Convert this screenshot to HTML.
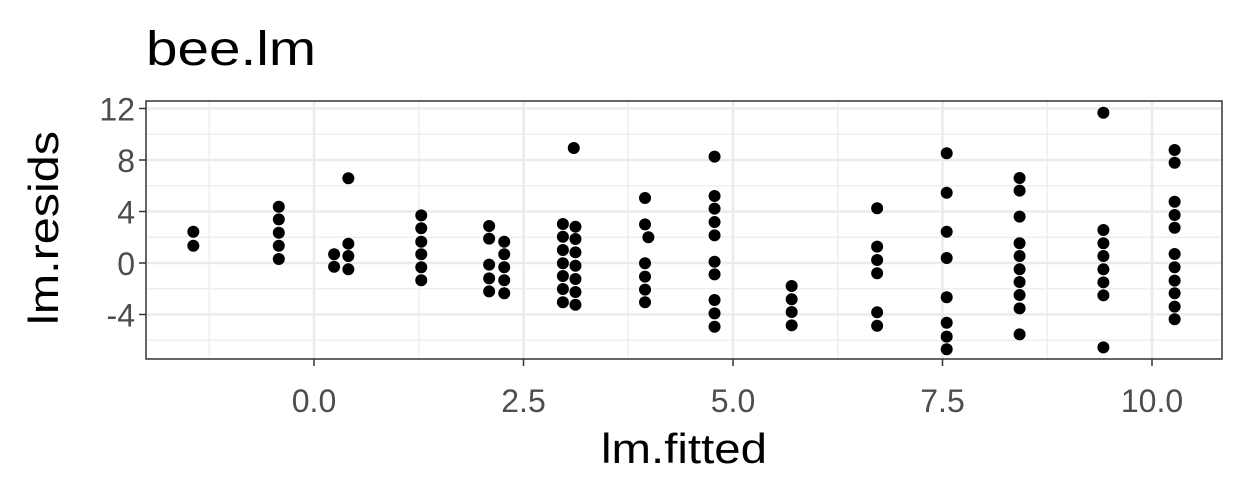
<!DOCTYPE html>
<html><head><meta charset="utf-8"><style>
html,body{margin:0;padding:0;background:#fff;}
svg{display:block;font-family:"Liberation Sans",Arial,sans-serif;}
</style></head><body>
<svg id="chart" width="1248" height="499" viewBox="0 0 1248 499">
<text x="146" y="65" font-size="48" textLength="170" lengthAdjust="spacingAndGlyphs" fill="#000">bee.lm</text>
<g id="grid"></g>
<g id="points"></g>
<rect x="146" y="101" width="1076" height="258" fill="none" stroke="#333" stroke-width="1.5"/>
<g id="axes"></g>
<text x="684" y="463" font-size="42" textLength="166" lengthAdjust="spacingAndGlyphs" text-anchor="middle" fill="#000">lm.fitted</text>
<text transform="translate(58,228) rotate(-90)" font-size="42" textLength="194" lengthAdjust="spacingAndGlyphs" text-anchor="middle" fill="#000">lm.resids</text>
</svg>
<script>
const xTicks=[0,2.5,5,7.5,10];
const xTickLabels=["0.0","2.5","5.0","7.5","10.0"];
const xMinor=[-1.25,1.25,3.75,6.25,8.75];
const yTicks=[-4,0,4,8,12];
const yTickLabels=["-4","0","4","8","12"];
const yMinor=[-6,-2,2,6,10];
const fitted=[-1.44,-1.44,
-0.42,-0.42,-0.42,-0.42,-0.42,
0.24,0.24,0.41,0.41,0.41,0.41,
1.28,1.28,1.28,1.28,1.28,1.28,
2.09,2.09,2.09,2.09,2.09,2.27,2.27,2.27,2.27,2.27,
2.97,2.97,2.97,2.97,2.97,2.97,2.97,3.12,3.12,3.12,3.12,3.12,3.12,3.12,3.10,
3.95,3.95,3.95,3.95,3.95,3.95,3.99,
4.78,4.78,4.78,4.78,4.78,4.78,4.78,4.78,4.78,4.78,
5.70,5.70,5.70,5.70,
6.72,6.72,6.72,6.72,6.72,6.72,
7.55,7.55,7.55,7.55,7.55,7.55,7.55,7.55,
8.42,8.42,8.42,8.42,8.42,8.42,8.42,8.42,8.42,8.42,
9.42,9.42,9.42,9.42,9.42,9.42,9.42,9.42,
10.27,10.27,10.27,10.27,10.27,10.27,10.27,10.27,10.27,10.27,10.27];
const resids=[2.43,1.34,
4.37,3.39,2.35,1.34,0.31,
0.68,-0.29,6.58,1.5,0.54,-0.49,
3.7,2.7,1.65,0.68,-0.33,-1.34,
2.87,1.89,-0.13,-1.19,-2.2,1.65,0.68,-0.33,-1.34,-2.35,
3.03,2.04,1.01,-0.02,-1.01,-2.02,-3.05,2.82,1.86,0.83,-0.21,-1.24,-2.25,-3.24,8.93,
5.05,3.0,-0.02,-1.06,-2.07,-3.05,2.0,
8.26,5.2,4.22,3.18,2.15,0.1,-0.88,-2.87,-3.91,-4.95,
-1.79,-2.82,-3.81,-4.84,
4.25,1.27,0.23,-0.8,-3.83,-4.87,
8.52,5.46,2.43,0.39,-2.66,-4.64,-5.72,-6.7,
6.6,5.62,3.6,1.53,0.54,-0.49,-1.48,-2.49,-3.52,-5.54,
11.67,2.56,1.53,0.54,-0.49,-1.5,-2.51,-6.55,
8.78,7.79,4.76,3.73,2.74,0.7,-0.33,-1.37,-2.35,-3.39,-4.37];
const NS="http://www.w3.org/2000/svg";
const X=v=>314+v*83.8;
const Y=v=>263-v*12.875;
const L=146,R=1222,T=101,B=359;
const grid=document.getElementById('grid');
const pts=document.getElementById('points');
const axes=document.getElementById('axes');
function line(p,x1,y1,x2,y2,c,w){const l=document.createElementNS(NS,'line');l.setAttribute('x1',x1);l.setAttribute('y1',y1);l.setAttribute('x2',x2);l.setAttribute('y2',y2);l.setAttribute('stroke',c);l.setAttribute('stroke-width',w);p.appendChild(l);return l;}
xMinor.forEach(v=>{const l=line(grid,X(v),T,X(v),B,'#ebebeb',1.2);

});
yMinor.forEach(v=>{const l=line(grid,L,Y(v),R,Y(v),'#ebebeb',1.2);

});
xTicks.forEach((v,i)=>{const l=line(grid,X(v),T,X(v),B,'#ebebeb',2.6);


const t=line(axes,X(v),B,X(v),B+7,'#333',1.5);


const tx=document.createElementNS(NS,'text');tx.setAttribute('x',X(v));tx.setAttribute('y',412);tx.setAttribute('font-size','32');tx.setAttribute('fill','#4d4d4d');tx.setAttribute('text-anchor','middle');tx.textContent=xTickLabels[i];


axes.appendChild(tx);});
yTicks.forEach((v,i)=>{const l=line(grid,L,Y(v),R,Y(v),'#ebebeb',2.6);


const t=line(axes,L-7,Y(v),L,Y(v),'#333',1.5);


const tx=document.createElementNS(NS,'text');tx.setAttribute('x',L-11);tx.setAttribute('y',Y(v)+12);tx.setAttribute('font-size','32');tx.setAttribute('fill','#4d4d4d');tx.setAttribute('text-anchor','end');tx.textContent=yTickLabels[i];


axes.appendChild(tx);});
fitted.forEach((f,i)=>{const c=document.createElementNS(NS,'circle');c.setAttribute('cx',X(f));c.setAttribute('cy',Y(resids[i]));c.setAttribute('r','6');c.setAttribute('fill','#000');


pts.appendChild(c);});
</script>
</body></html>
